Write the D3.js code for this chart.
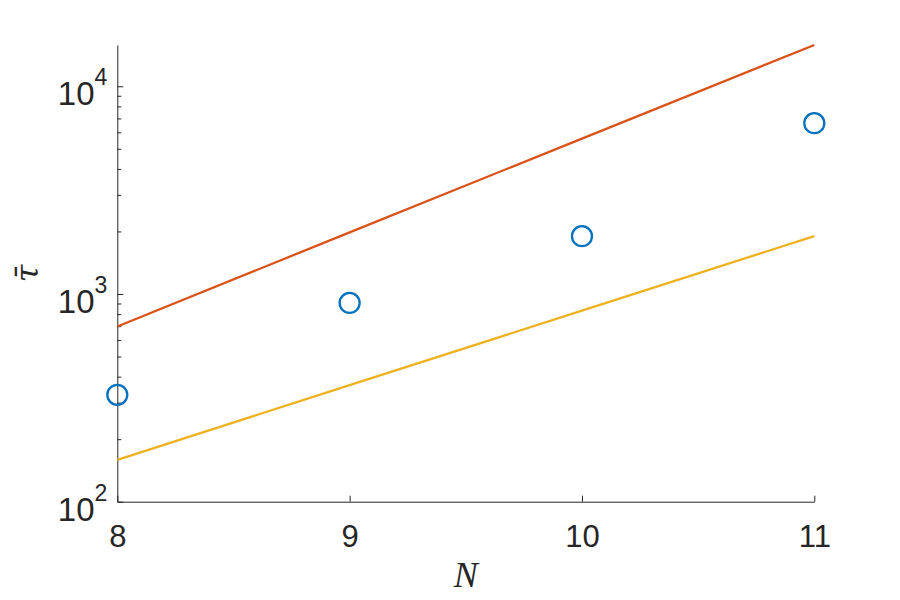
<!DOCTYPE html>
<html lang="en">
<head>
	<meta charset="UTF-8">
	<title>tau vs N</title>
	<style>
		body { margin: 0; background: #fff; }
	</style>
</head>
<body>

	<div id="viz-wrapper">
	</div>

	<script src="https://cdn.jsdelivr.net/npm/d3@7/dist/d3.min.js"></script>

	<script type="text/javascript">
    // data
    var nValues = [8, 9, 10, 11];
    var tauMeasured = [327, 906, 1897, 6640];   // blue circles
    var upperBound = [697, 1980, 5600, 15800];   // red line
    var lowerBound = [159, 364, 831, 1900];      // yellow line
    var xTicks = [8, 9, 10, 11];
    var yMajorTicks = [100, 1000, 10000];
    var yMinorTicks = [200, 300, 400, 500, 600, 700, 800, 900,
                       2000, 3000, 4000, 5000, 6000, 7000, 8000, 9000];

    var width = 900,
        height = 600;

    // plot box (not called "top", that one belongs to window)
    var plotLeft = 117.3, plotRight = 814.3, plotTop = 45, plotBottom = 501.7;

    var ink = '#262626';

    var viz = d3.select('#viz-wrapper')
                .append('svg')
                .attr('width', width)
                .attr('height', height);

    var x = d3.scaleLinear().domain([8, 11]).range([plotLeft, plotRight]);
    var y = d3.scaleLog().domain([100, 15800]).range([plotBottom, plotTop]);

    // x axis, ticks pointing into the plot
    var xAxis = viz.append('g')
        .attr('transform', 'translate(0,' + plotBottom + ')')
        .call(d3.axisBottom(x).tickValues(xTicks).tickSize(-6).tickSizeOuter(0).tickPadding(23)
              .tickFormat(d3.format('d')));

    xAxis.selectAll('text')
        .style('font-family', 'Liberation Sans, Arial, sans-serif')
        .style('font-size', '31px')
        .attr('fill', ink);

    // y axis minor ticks
    viz.append('g')
        .attr('transform', 'translate(' + plotLeft + ',0)')
        .call(d3.axisLeft(y).tickValues(yMinorTicks).tickSize(-4).tickSizeOuter(0).tickFormat(''))
        .select('.domain').remove();

    // y axis major ticks
    var yAxis = viz.append('g')
        .attr('transform', 'translate(' + plotLeft + ',0)')
        .call(d3.axisLeft(y).tickValues(yMajorTicks).tickSize(-6).tickSizeOuter(0).tickFormat(''));

    // "10" with a superscript exponent
    yAxis.selectAll('.tick').append('text')
        .attr('x', -10)
        .attr('y', 18.7)
        .attr('text-anchor', 'end')
        .attr('fill', ink)
        .style('font-family', 'Liberation Sans, Arial, sans-serif')
        .each(function(d) {
          var t = d3.select(this);
          t.append('tspan').style('font-size', '33px').text('10');
          t.append('tspan').style('font-size', '23px').attr('dy', -20)
           .text(Math.round(Math.log10(d)));
        });

    viz.selectAll('.domain, .tick line')
        .attr('stroke', ink)
        .attr('stroke-width', 1);

    // lines
    var line = function(vals) {
      return d3.line()
               .x(function(d, i) { return x(nValues[i]); })
               .y(function(d) { return y(d); })(vals);
    };

    viz.append('path')
        .attr('d', line(upperBound))
        .attr('fill', 'none')
        .attr('stroke', '#D95319')
        .attr('stroke-width', 2.3);

    viz.append('path')
        .attr('d', line(lowerBound))
        .attr('fill', 'none')
        .attr('stroke', '#EDB120')
        .attr('stroke-width', 2.3);

    // circles
    viz.selectAll('circle')
        .data(tauMeasured)
        .enter()
        .append('circle')
        .attr('cx', function(d, i) { return x(nValues[i]); })
        .attr('cy', function(d) { return y(d); })
        .attr('r', 10)
        .attr('fill', 'none')
        .attr('stroke', '#0072BD')
        .attr('stroke-width', 2.3);

    // axis labels
    viz.append('text')
        .attr('x', (plotLeft + plotRight) / 2)
        .attr('y', 587)
        .attr('text-anchor', 'middle')
        .attr('fill', ink)
        .style('font-family', 'Liberation Serif, Times New Roman, serif')
        .style('font-style', 'italic')
        .style('font-size', '36px')
        .text('N');

    viz.append('text')
        .attr('transform', 'translate(38,' + ((plotTop + plotBottom) / 2) + ') rotate(-90)')
        .attr('text-anchor', 'middle')
        .attr('fill', ink)
        .style('font-family', 'DejaVu Serif, serif')
        .style('font-style', 'italic')
        .style('font-size', '32px')
        .text('τ\u0304');
 	</script>

</body>
</html>
